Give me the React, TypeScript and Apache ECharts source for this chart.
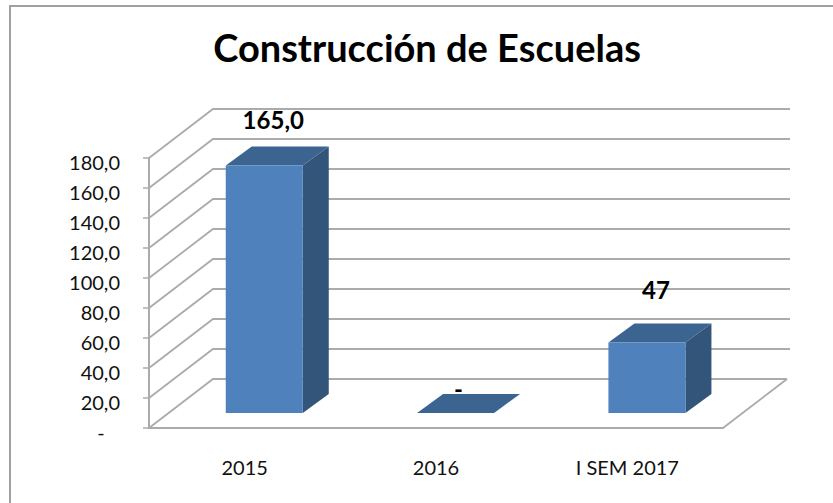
import React, { useEffect, useRef } from "react";
import * as echarts from "echarts";

const categories = ["2015", "2016", "I SEM 2017"];
const values = [165, 0, 47];
const valueLabels = ["165,0", "-", "47"];
const axisTicks = [0, 20, 40, 60, 80, 100, 120, 140, 160, 180];

const FONT = "Lato, Carlito, Calibri, sans-serif";
const GRID = { left: 149, right: 110, top: 158, bottom: 75 };
const WALL_DX = 64;
const WALL_DY = 49;
const FLOOR_DY = 15;
const FLOOR_DX = (FLOOR_DY * WALL_DX) / WALL_DY;
const BAR_W = 77;
const BAR_DX = 26;
const BAR_DY = 19;
const LINE = "#ababab";
const LABEL_LIFT = [46, 25, 53];
const LABEL_SHIFT = [9, 3, 9];

export default function App() {
  const ref = useRef<HTMLDivElement>(null);
  useEffect(() => {
    const chart = echarts.init(ref.current!, undefined, { renderer: "svg" });
    chart.setOption({
      animation: false,
      backgroundColor: "#fff",
      title: {
        text: "Construcción de Escuelas",
        left: 422,
        top: 23,
        textAlign: "center",
        textStyle: { fontFamily: FONT, fontSize: 38, fontWeight: "bold", color: "#000" },
      },
      grid: GRID,
      xAxis: {
        type: "category",
        data: categories,
        axisLine: { lineStyle: { color: LINE, width: 2 } },
        axisTick: { length: 8, lineStyle: { color: LINE, width: 1.5 } },
        axisLabel: { fontFamily: FONT, fontSize: 20, color: "#111", margin: 29 },
      },
      yAxis: {
        type: "value",
        min: 0,
        max: 180,
        interval: 20,
        splitLine: { show: false },
        axisLine: { show: true, lineStyle: { color: LINE, width: 2 } },
        axisTick: { show: true, length: 6, lineStyle: { color: LINE, width: 1.5 } },
        axisLabel: {
          fontFamily: FONT,
          fontSize: 20,
          color: "#111",
          margin: 29,
          verticalAlign: "top",
          lineHeight: 8,
          formatter: (v: number) => (v === 0 ? "-   " : v.toFixed(1).replace(".", ",")),
        },
      },
      series: [
        {
          type: "custom",
          coordinateSystem: "cartesian2d",
          clip: false,
          silent: true,
          z: 1,
          encode: { y: 0 },
          data: axisTicks.map((t) => [t]),
          renderItem: (params: any, api: any) => {
            const v = api.value(0);
            const y = api.coord([0, v])[1];
            const sys = params.coordSys;
            const x0 = sys.x;
            const x1 = sys.x + sys.width + WALL_DX;
            const children: any[] = [
              {
                type: "polyline",
                shape: { points: [[x0, y], [x0 + WALL_DX, y - WALL_DY], [x1 + (v === 0 ? 0 : 3), y - WALL_DY]] },
                style: { fill: "none", stroke: LINE, lineWidth: 1.8 },
              },
            ];
            if (v === 0) {
              children.push({
                type: "line",
                shape: { x1: x0 + sys.width, y1: y, x2: x1, y2: y - WALL_DY },
                style: { stroke: LINE, lineWidth: 1.8 },
              });
            }
            return { type: "group", children };
          },
        },
        {
          type: "custom",
          coordinateSystem: "cartesian2d",
          clip: false,
          silent: true,
          z: 3,
          encode: { x: 0, y: 1 },
          data: categories.map((c, i) => [i, values[i]]),
          renderItem: (_params: any, api: any) => {
            const i = api.value(0);
            const [cx, top0] = api.coord([i, api.value(1)]);
            const [, base0] = api.coord([i, 0]);
            const xl = cx + FLOOR_DX - BAR_W / 2;
            const xr = xl + BAR_W;
            const top = top0 - FLOOR_DY;
            const base = base0 - FLOOR_DY;
            return {
              type: "group",
              children: [
                {
                  type: "polygon",
                  shape: { points: [[xr, top], [xr + BAR_DX, top - BAR_DY], [xr + BAR_DX, base - BAR_DY], [xr, base]] },
                  style: { fill: "#325579" },
                },
                {
                  type: "polygon",
                  shape: { points: [[xl, top], [xl + BAR_DX, top - BAR_DY], [xr + BAR_DX, top - BAR_DY], [xr, top]] },
                  style: { fill: "#3b6491" },
                },
                {
                  type: "rect",
                  shape: { x: xl, y: top, width: BAR_W, height: base - top },
                  style: { fill: "#4f81bd" },
                },
                {
                  type: "text",
                  x: cx + FLOOR_DX + LABEL_SHIFT[i],
                  y: top - LABEL_LIFT[i],
                  style: {
                    text: valueLabels[i],
                    fontFamily: FONT,
                    fontSize: 24,
                    fontWeight: "bold",
                    fill: "#000",
                    align: "center",
                    verticalAlign: "middle",
                  },
                },
              ],
            };
          },
        },
      ],
    });
    return () => chart.dispose();
  }, []);
  return (
    <div style={{ position: "absolute", left: 0, top: 0, width: 833, height: 503, background: "#fff", overflow: "hidden" }}>
      <div ref={ref} style={{ width: 833, height: 503 }} />
      <div
        style={{
          position: "absolute",
          left: 9,
          top: 5,
          width: 830,
          height: 510,
          border: "2px solid #a0a0a0",
          boxSizing: "border-box",
          pointerEvents: "none",
        }}
      />
    </div>
  );
}
